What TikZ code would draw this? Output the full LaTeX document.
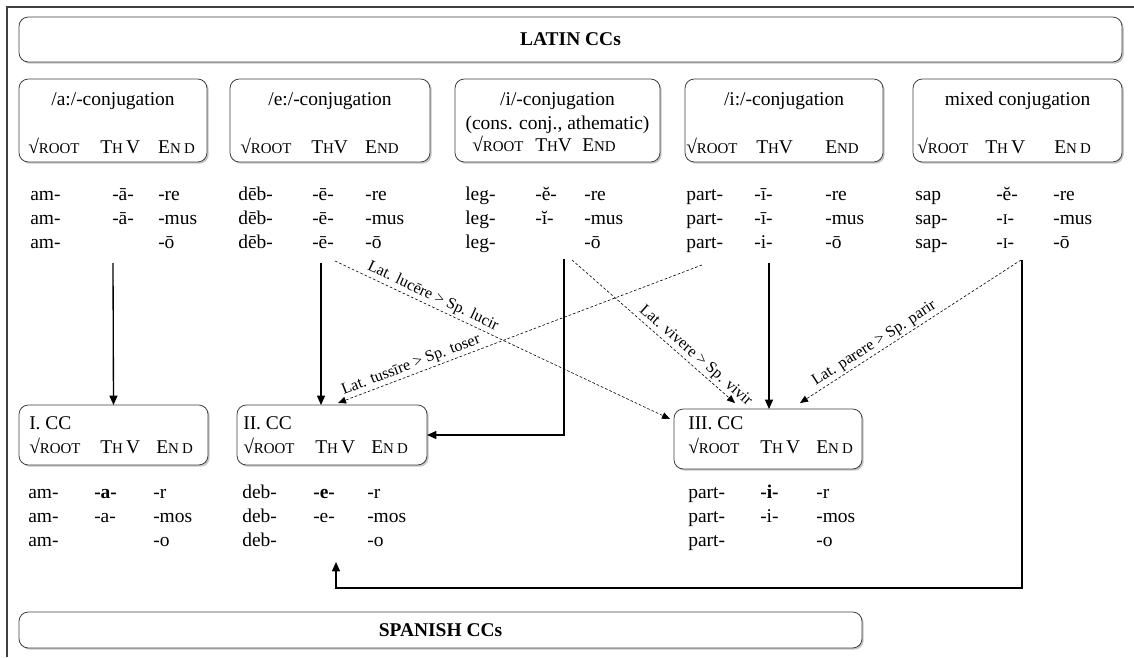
\documentclass[tikz,border=0pt]{standalone}
\usepackage{fontspec}
\setmainfont{Liberation Serif}
\usetikzlibrary{positioning, arrows.meta, shadows, calc}

\newdimen\pxu \pxu=0.75pt
\newcommand{\smc}[1]{{\fontsize{11.2}{12}\selectfont #1}}
\newcommand{\rootcol}{√\smc{ROOT}}
\newcommand{\thvs}{T\smc{H}\,V}
\newcommand{\thvc}{T\smc{H}V}
\newcommand{\ecols}{E\smc{N}\,\smc{D}}
\newcommand{\ecolc}{E\smc{ND}}
\newcommand{\cols}[3]{\begin{tabular}[t]{@{}p{#1\pxu}@{}p{#2\pxu}@{}l@{}}#3\end{tabular}}

\tikzstyle{frame} = [draw=black!75, line width=1.2pt]
\tikzstyle{ccbox} = [rectangle, rounded corners=7pt, draw=black!75, line width=0.6pt, fill=white, inner sep=0pt, outer sep=0pt, drop shadow={shadow xshift=1.3pt, shadow yshift=-1.3pt, opacity=0.45}]
\tikzstyle{title} = [anchor=base, inner sep=0pt]
\tikzstyle{head} = [anchor=base west, inner sep=0pt]
\tikzstyle{forms} = [anchor=base west, inner sep=0pt]
\tikzstyle{arrow} = [-{Triangle[length=7pt, width=6pt]}, line width=1pt]
\tikzstyle{loan} = [-{Triangle[length=6pt, width=5pt]}, line width=0.45pt, dash pattern=on 2pt off 1.5pt]
\tikzstyle{loanlabel} = [sloped, above, inner sep=1.5pt, font=\fontsize{12}{14}\selectfont]
\tikzset{boxsize/.style 2 args={minimum width=#1*0.75pt, minimum height=#2*0.75pt}}

\begin{document}
\begin{tikzpicture}[x=0.75pt, y=-0.75pt, font=\fontsize{14.6}{18}\selectfont]
\useasboundingbox (0,0) rectangle (1134,657);
\draw [frame] (7,657) -- (7,7) -- (1134,7);

% Latin conjugation classes
\node (latin) [ccbox, boxsize={1103}{45}] at (570.5,39.5) {\textbf{LATIN CCs}};
\node (conjA) [ccbox, boxsize={188}{83}] at (113,120.5) {};
\node (conjE) [ccbox, boxsize={200}{83}] at (330,120.5) {};
\node (conjI) [ccbox, boxsize={205}{83}] at (557.5,120.5) {};
\node (conjII) [ccbox, boxsize={198}{83}] at (784,120.5) {};
\node (conjM) [ccbox, boxsize={209}{83}] at (1017.5,120.5) {};

\node (titleA) [title] at (conjA.center |- 0,105) {/a:/-conjugation};
\node (titleE) [title] at (conjE.center |- 0,105) {/e:/-conjugation};
\node (titleI) [title] at (conjI.center |- 0,105) {/i/-conjugation};
\node (subtitleI) [title] at (conjI.center |- 0,129) {(cons. conj., athematic)};
\node (titleII) [title] at (conjII.center |- 0,105) {/i:/-conjugation};
\node (titleM) [title] at (conjM.center |- 0,105) {mixed conjugation};

\node (headA) [head] at (28,153) {\cols{72}{58}{\rootcol & \thvs & \ecols}};
\node (headE) [head] at (240,153) {\cols{71}{54}{\rootcol & \thvc & \ecolc}};
\node (headI) [head] at (472,151) {\cols{63}{47}{\rootcol & \thvc & \ecolc}};
\node (headII) [head] at (686,153) {\cols{70}{69}{\rootcol & \thvc & \ecolc}};
\node (headM) [head] at (917,153) {\cols{68}{69}{\rootcol & \thvs & \ecols}};

\node (formsA) [forms] at (30,200) {\cols{82}{46}{am- & -ā- & -re\\ am- & -ā- & -mus\\ am- & & -ō}};
\node (formsE) [forms] at (238,200) {\cols{74}{53}{dēb- & -ē- & -re\\ dēb- & -ē- & -mus\\ dēb- & -ē- & -ō}};
\node (formsI) [forms] at (465,200) {\cols{70}{49}{leg- & -ĕ- & -re\\ leg- & -ĭ- & -mus\\ leg- & & -ō}};
\node (formsII) [forms] at (686,200) {\cols{68}{71}{part- & -ī- & -re\\ part- & -ī- & -mus\\ part- & -i- & -ō}};
\node (formsM) [forms] at (915,200) {\cols{81}{57}{sap & -ĕ- & -re\\ sap- & -\smc{I}- & -mus\\ sap- & -\smc{I}- & -ō}};

% Spanish conjugation classes
\node (cc1) [ccbox, boxsize={189}{60}] at (113.5,435) {};
\node (cc2) [ccbox, boxsize={190}{60}] at (332,435) {};
\node (cc3) [ccbox, boxsize={188}{60}] at (768,439) {};
\node (spanish) [ccbox, boxsize={843}{36}] at (440.5,630) {\textbf{SPANISH CCs}};

\node (titleCCa) [head] at (29,429) {I. CC};
\node (titleCCb) [head] at (243,429) {II. CC};
\node (titleCCc) [head] at (688,429) {III. CC};
\node (headCCa) [head] at (29,453) {\cols{71}{56}{\rootcol & \thvs & \ecols}};
\node (headCCb) [head] at (243,453) {\cols{72}{56}{\rootcol & \thvs & \ecols}};
\node (headCCc) [head] at (688,453) {\cols{72}{56}{\rootcol & \thvs & \ecols}};

\node (formsCCa) [forms] at (28,498) {\cols{66}{59}{am- & \textbf{-a-} & -r\\ am- & -a- & -mos\\ am- & & -o}};
\node (formsCCb) [forms] at (242,498) {\cols{71}{54}{deb- & \textbf{-e-} & -r\\ deb- & -e- & -mos\\ deb- & & -o}};
\node (formsCCc) [forms] at (688,498) {\cols{72}{56}{part- & \textbf{-i-} & -r\\ part- & -i- & -mos\\ part- & & -o}};

% regular paths
\coordinate (srcA) at (113,263);
\coordinate (srcE) at (321,263);
\coordinate (srcI) at (564,259);
\coordinate (srcII) at (769,263);
\coordinate (srcM) at (1022,260);
\coordinate (loopend) at (336,562);
\draw [arrow] (srcA) -- (cc1.north);
\draw [arrow] (srcE) -- (srcE |- cc2.north);
\draw [arrow] (srcI) |- (cc2.east);
\draw [arrow] (srcII) -- (srcII |- cc3.north);
\draw [arrow] (srcM) -- ++(0,328) -| (loopend);

% single verbs changing class
\coordinate (srcLuc) at (335,261);
\coordinate (srcTus) at (702,265);
\coordinate (srcViv) at (572,260);
\coordinate (srcPar) at (1021,260);
\draw [loan] (srcLuc) -- node[loanlabel, pos=0.28] {Lat. lucēre > Sp. lucir} ($(cc3.north west)+(-4,10)$);
\draw [loan] (srcTus) -- node[loanlabel, pos=0.79] {Lat. tussīre > Sp. toser} ($(cc2.north)+(6,-2)$);
\draw [loan] (srcViv) -- node[loanlabel, pos=0.72] {Lat. vivere > Sp. vivir} ($(cc3.north)+(-33,-6)$);
\draw [loan] (srcPar) -- node[loanlabel, pos=0.64] {Lat. parere > Sp. parir} ($(cc3.north)+(32,-6)$);
\end{tikzpicture}
\end{document}
